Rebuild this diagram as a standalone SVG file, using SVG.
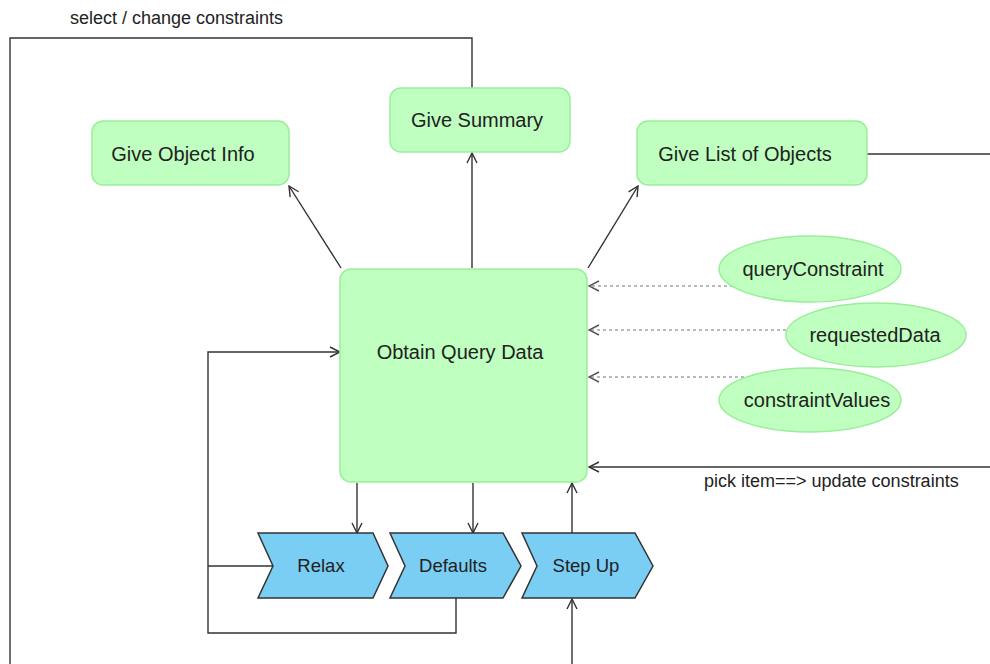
<svg xmlns="http://www.w3.org/2000/svg" width="990" height="664" viewBox="0 0 990 664">
<defs>
<marker id="arr" viewBox="0 0 12 12" refX="11" refY="6" markerWidth="12" markerHeight="12" markerUnits="userSpaceOnUse" orient="auto">
<path d="M1,1 L11,6 L1,11" fill="none" stroke="#333" stroke-width="1.4"/>
</marker>
<marker id="arrg" viewBox="0 0 12 12" refX="11" refY="6" markerWidth="12" markerHeight="12" markerUnits="userSpaceOnUse" orient="auto">
<path d="M1,1 L11,6 L1,11" fill="none" stroke="#555" stroke-width="1.4"/>
</marker>
</defs>
<style>
text{font-family:"Liberation Sans",Arial,sans-serif;font-size:18px;fill:#222}
.n{font-size:20px}
.ch{font-size:18.5px}
.box{fill:#bfffbf;stroke:#99ee99;stroke-width:1.5}
.chev{fill:#7acef4;stroke:#333;stroke-width:1.5}
.ln{fill:none;stroke:#333;stroke-width:1.4}
.dot{fill:none;stroke:#777;stroke-width:1.2;stroke-dasharray:3 3}
.c{text-anchor:middle}
</style>
<rect width="990" height="664" fill="#fff"/>
<g id="connectors">
<path class="ln" d="M10,664 V38 H472 V88"/>
<path class="ln" d="M867,154 H990"/>
<path class="ln" d="M341,268 L289,186" marker-end="url(#arr)"/>
<path class="ln" d="M472,268 V153" marker-end="url(#arr)"/>
<path class="ln" d="M588,268 L638,186" marker-end="url(#arr)"/>
<path class="dot" d="M733,286 H589" marker-end="url(#arrg)"/>
<path class="dot" d="M786,330 H589" marker-end="url(#arrg)"/>
<path class="dot" d="M750,377 H589" marker-end="url(#arrg)"/>
<path class="ln" d="M990,467 H589" marker-end="url(#arr)"/>
<path class="ln" d="M357,483 V533" marker-end="url(#arr)"/>
<path class="ln" d="M473,483 V533" marker-end="url(#arr)"/>
<path class="ln" d="M572,533 V483" marker-end="url(#arr)"/>
<path class="ln" d="M572,664 V599" marker-end="url(#arr)"/>
<path class="ln" d="M456,598 V633 H208 V352 H340" marker-end="url(#arr)"/>
<path class="ln" d="M208,566 H273"/>
<text x="70" y="24">select / change constraints</text>
<text x="704" y="487">pick item==&gt; update constraints</text>
</g>
<g id="give-object-info">
<rect class="box" x="92" y="121" width="197" height="64" rx="11"/>
<text x="183" y="161" class="c n">Give Object Info</text>
</g>
<g id="give-summary">
<rect class="box" x="390" y="88" width="180" height="64" rx="11"/>
<text x="477" y="127" class="c n">Give Summary</text>
</g>
<g id="give-list-of-objects">
<rect class="box" x="637" y="121" width="230" height="64" rx="11"/>
<text x="745" y="161" class="c n">Give List of Objects</text>
</g>
<g id="obtain-query-data">
<rect class="box" x="340" y="269" width="247" height="213" rx="11"/>
<text x="460" y="359" class="c n">Obtain Query Data</text>
</g>
<g id="query-constraint">
<ellipse class="box" cx="810" cy="269" rx="91" ry="33"/>
<text x="813" y="276" class="c n">queryConstraint</text>
</g>
<g id="requested-data">
<ellipse class="box" cx="876" cy="335" rx="90" ry="32"/>
<text x="875" y="342" class="c n">requestedData</text>
</g>
<g id="constraint-values">
<ellipse class="box" cx="810" cy="400" rx="91" ry="32"/>
<text x="817" y="407" class="c n">constraintValues</text>
</g>
<g id="relax">
<polygon class="chev" points="258,533 373,533 388,566 373,598 258,598 273,566"/>
<text x="321" y="572" class="c ch">Relax</text>
</g>
<g id="defaults">
<polygon class="chev" points="390,533 503,533 521,566 503,598 390,598 405,566"/>
<text x="453" y="572" class="c ch">Defaults</text>
</g>
<g id="step-up">
<polygon class="chev" points="522,533 635,533 653,566 635,598 522,598 537,566"/>
<text x="586" y="572" class="c ch">Step Up</text>
</g>
</svg>
